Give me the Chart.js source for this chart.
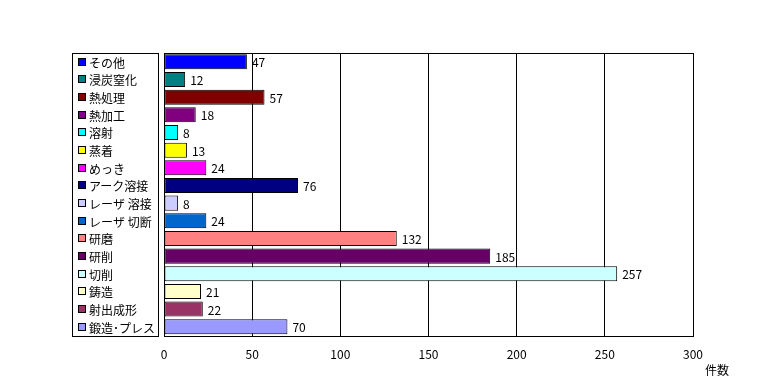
<!DOCTYPE html>
<html>
<head>
<meta charset="utf-8">
<script src="https://cdn.jsdelivr.net/npm/chart.js@4/dist/chart.umd.min.js"></script>
<style>
  body { margin: 0; background: #fff; }
  #wrap { width: 763px; height: 389px; }
</style>
</head>
<body>
<div id="wrap"><canvas id="chart"></canvas></div>
<script>
var categories = ["その他", "浸炭窒化", "熱処理", "熱加工", "溶射", "蒸着", "めっき", "アーク溶接",
  "レーザ 溶接", "レーザ 切断", "研磨", "研削", "切削", "鋳造", "射出成形", "鍛造･プレス"];
var counts = [47, 12, 57, 18, 8, 13, 24, 76, 8, 24, 132, 185, 257, 21, 22, 70];
var colors = ["#0000FF", "#008080", "#800000", "#800080", "#00FFFF", "#FFFF00", "#FF00FF", "#000080",
  "#CCCCFF", "#0066CC", "#FF8080", "#660066", "#CCFFFF", "#FFFFCC", "#993366", "#9999FF"];
var xTicks = [0, 50, 100, 150, 200, 250, 300];
var axisUnit = "件数";

var FONT = "'Noto Sans CJK JP', sans-serif";

var extras = {
  id: "extras",
  afterDatasetsDraw: function(chart){
    var ctx = chart.ctx;
    var area = chart.chartArea;
    var y = chart.scales.y;
    var meta = chart.getDatasetMeta(0);
    var top = Math.round(area.top) + 0.5;
    var h = Math.round(area.bottom) - Math.round(area.top);

    ctx.save();
    ctx.strokeStyle = "#000";
    ctx.lineWidth = 1;
    ctx.strokeRect(Math.round(area.left) + 0.5, top, Math.round(area.right) - Math.round(area.left), h);

    // value labels
    ctx.font = "12px " + FONT;
    ctx.fillStyle = "#000";
    ctx.textBaseline = "middle";
    ctx.textAlign = "left";
    meta.data.forEach(function(bar, i){
      ctx.fillText(counts[i], bar.x + 5, bar.y + 1);
    });

    // legend box on the left
    ctx.strokeRect(72.5, top, 86, h);
    categories.forEach(function(name, i){
      var cy = Math.round(y.getPixelForValue(i));
      ctx.fillStyle = colors[i];
      ctx.fillRect(79, cy - 3, 7, 7);
      ctx.strokeRect(78.5, cy - 3.5, 7, 7);
      ctx.fillStyle = "#000";
      ctx.fillText(name, 89, cy + 1);
    });

    // unit label
    ctx.fillText(axisUnit, 705, 370);
    ctx.restore();
  }
};

new Chart(document.getElementById("chart"), {
  type: "bar",
  data: {
    labels: categories,
    datasets: [{
      data: counts,
      backgroundColor: colors,
      borderColor: "#000",
      borderWidth: 1,
      borderSkipped: false,
      barPercentage: 0.85,
      categoryPercentage: 1
    }]
  },
  options: {
    indexAxis: "y",
    responsive: true,
    maintainAspectRatio: false,
    animation: false,
    layout: { padding: { left: 164, right: 70, top: 53, bottom: 15 } },
    plugins: {
      legend: { display: false },
      tooltip: { enabled: false }
    },
    scales: {
      y: { display: false },
      x: {
        min: 0,
        max: 300,
        afterBuildTicks: function(axis){
          axis.ticks = xTicks.map(function(v){ return { value: v }; });
        },
        grid: { color: "#000", drawTicks: false },
        border: { display: false },
        ticks: {
          color: "#000",
          padding: 12,
          font: { family: FONT, size: 12 }
        }
      }
    }
  },
  plugins: [extras]
});
</script>
</body>
</html>
